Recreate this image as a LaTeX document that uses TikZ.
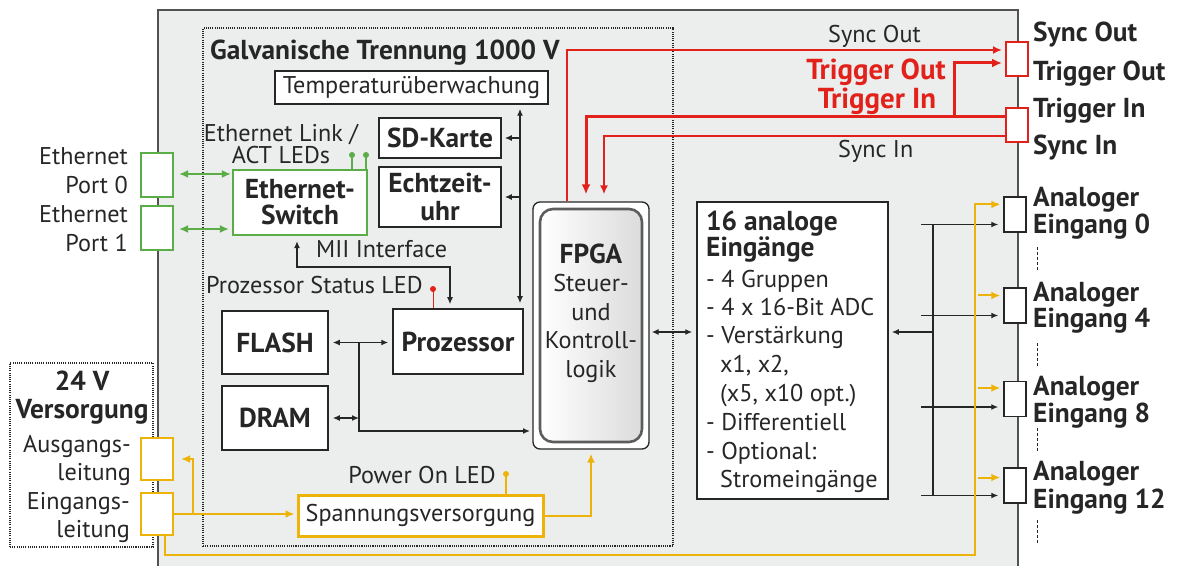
\documentclass[tikz,border=0pt]{standalone}
\usepackage{fontspec}
\setmainfont{PT Sans}
\usetikzlibrary{arrows.meta,calc}
\definecolor{dk}{HTML}{262626}
\definecolor{bg}{HTML}{ECEDED}
\definecolor{grn}{HTML}{5BAE47}
\definecolor{rd}{HTML}{E3211B}
\definecolor{yl}{HTML}{EEB309}
\newcommand\fR{\fontsize{24.3}{28.5}\selectfont}
\newcommand\fB{\fontsize{27.5}{28}\selectfont\bfseries}
\newcommand\fRB{\fontsize{29}{29}\selectfont\bfseries}
\begin{document}
\begin{tikzpicture}[x=1bp,y=-1bp, font=\fR, text=dk,
  every node/.style={inner sep=0pt},
  box/.style={draw=dk, fill=white, line width=1.5bp, align=center},
  gbox/.style={draw=grn, fill=white, line width=2.2bp, align=center},
  ybox/.style={draw=yl, fill=white, line width=2.2bp},
  rbox/.style={draw=rd, fill=white, line width=2bp},
  sz/.style 2 args={minimum width=#1bp, minimum height=#2bp},
  lbl/.style={anchor=base west},
  lblr/.style={anchor=base east},
  lblc/.style={anchor=base},
  con/.style={draw=dk, line width=1.3bp},
  arr/.style={con, -{Latex[length=7bp,width=6bp]}},
  dbl/.style={con, {Latex[length=7bp,width=6bp]}-{Latex[length=7bp,width=6bp]}},
  garr/.style={draw=grn, line width=2bp, {Latex[length=9bp,width=8bp]}-{Latex[length=9bp,width=8bp]}},
  yline/.style={draw=yl, line width=2bp},
  yarr/.style={yline, -{Latex[length=9bp,width=8bp]}},
  rthin/.style={draw=rd, line width=1.8bp, -{Latex[length=9bp,width=8bp]}},
  rthick/.style={draw=rd, line width=3bp, -{Latex[length=10bp,width=9bp]}},
  dotbox/.style={draw=dk, line width=1.1bp, dash pattern=on 1.1bp off 1.1bp},
]
\useasboundingbox (0,0) rectangle (1182,566);
% main housing
\fill[bg] (158,10) rectangle (1018,566);
\draw[dk!80, line width=1.5bp] (158,566) -- (158,10) -- (1018,10) -- (1018,566);

% dotted groups
\node[dotbox, sz={470}{518}] (galv) at (438,287) {};
\node[dotbox, fill=white, sz={143}{184}] (v24) at (81.5,455) {};

% boxes
\node[box, sz={273}{33}] (temp) at (411.5,87.5) {Temperaturüberwachung};
\node[box, sz={122}{40}, font=\fB] (sd) at (440,138) {SD-Karte};
\node[box, sz={122}{60}, font=\fB] (rtc) at (440,197) {Echtzeit-\\uhr};
\node[gbox, sz={134}{65}, font=\fB] (sw) at (300,202.5) {Ethernet-\\[-2bp]Switch};
\node[gbox, sz={32}{44}] (p0) at (157,175) {};
\node[gbox, sz={32}{44}] (p1) at (157,228) {};
\node[box, sz={130}{65}, font=\fB] (proz) at (458,341.5) {Prozessor};
\node[box, sz={106}{63}, font=\fB] (flash) at (275,342.5) {FLASH};
\node[box, sz={106}{64}, font=\fB] (dram) at (275,418) {DRAM};
\node[draw=dk, fill=white, line width=1.3bp, rounded corners=7bp, sz={116}{247}] (fpga) at (591,325.5) {};
\node[draw=dk!75, line width=2.6bp, rounded corners=13bp, sz={102}{233},
      left color=white, middle color=white, right color=black!14] (fpgain) at (591,325.5) {};
\node[align=center] (fpgatxt) at (591,313) {{\fB FPGA}\\Steuer-\\und\\Kontroll-\\logik};
\node[box, sz={191}{297}] (ana) at (792.5,350.5) {};
\node[box, sz={22}{35}] (in0) at (1015,214.5) {};
\node[box, sz={22}{35}] (in4) at (1015,305.5) {};
\node[box, sz={22}{35}] (in8) at (1015,399) {};
\node[box, sz={22}{35}] (in12) at (1015,485.5) {};
\node[rbox, sz={22}{34}] (so) at (1017,59) {};
\node[rbox, sz={22}{34}] (si) at (1017,125) {};
\node[ybox, sz={32}{42}] (ausg) at (157,459) {};
\node[ybox, sz={32}{42}] (eing) at (157,514) {};
\node[ybox, line width=3bp, sz={245}{41}] (span) at (420.5,515.5) {Spannungsversorgung};

% analog box text
\node[lbl, font=\fB] (a1) at (706,231) {16 analoge};
\node[lbl, font=\fB] (a2) at (706,257) {Eingänge};
\node[lbl] (a3) at (706,288) {- 4 Gruppen};
\node[lbl] (a4) at (706,316) {- 4 x 16-Bit ADC};
\node[lbl] (a5) at (706,344) {- Verstärkung};
\node[lbl] (a6) at (720,372) {x1, x2,};
\node[lbl] (a7) at (720,401) {(x5, x10 opt.)};
\node[lbl] (a8) at (706,430) {- Differentiell};
\node[lbl] (a9) at (706,459) {- Optional:};
\node[lbl] (a10) at (720,487) {Stromeingänge};

% labels
\node[lbl, font=\fB] (galvt) at (210,60) {Galvanische Trennung 1000 V};
\node[lblc] (ell1) at (281,142) {Ethernet Link /};
\node[lblc] (ell2) at (281,164) {ACT LEDs};
\node[lblr] (e0a) at (128,165) {Ethernet};
\node[lblr] (e0b) at (128,194) {Port 0};
\node[lblr] (e1a) at (128,223) {Ethernet};
\node[lblr] (e1b) at (128,252) {Port 1};
\node[lbl] (mii) at (316,258) {MII Interface};
\node[lbl] (psl) at (206,294) {Prozessor Status LED};
\node[lblr] (pol) at (496,483) {Power On LED};
\node[lblc, font=\fB] (v24a) at (82,390) {24 V};
\node[lblc, font=\fB] (v24b) at (82,418) {Versorgung};
\node[lblr] (aus1) at (131,452) {Ausgangs-};
\node[lblr] (aus2) at (131,480) {leitung};
\node[lblr] (ein1) at (130,509) {Eingangs-};
\node[lblr] (ein2) at (130,537) {leitung};
\node[lbl] (sot) at (828,43) {Sync Out};
\node[lblc, font=\fRB, text=rd] (tot) at (876,80) {Trigger Out};
\node[lblc, font=\fRB, text=rd] (tit) at (877,109) {Trigger In};
\node[lbl] (sit) at (838,158) {Sync In};
\node[lbl, font=\fB] (r1) at (1033,42) {Sync Out};
\node[lbl, font=\fB] (r2) at (1033,81) {Trigger Out};
\node[lbl, font=\fB] (r3) at (1033,118) {Trigger In};
\node[lbl, font=\fB] (r4) at (1033,155) {Sync In};
\node[lbl, font=\fB] (an0a) at (1033,207) {Analoger};
\node[lbl, font=\fB] (an0b) at (1033,234) {Eingang 0};
\node[lbl, font=\fB] (an4a) at (1033,302) {Analoger};
\node[lbl, font=\fB] (an4b) at (1033,328) {Eingang 4};
\node[lbl, font=\fB] (an8a) at (1033,395) {Analoger};
\node[lbl, font=\fB] (an8b) at (1033,422) {Eingang 8};
\node[lbl, font=\fB] (an12a) at (1033,480) {Analoger};
\node[lbl, font=\fB] (an12b) at (1033,508) {Eingang 12};

% dashed continuation marks
\foreach \ya/\yb in {247/270, 343/368, 428/453, 520/545}
  \draw[dk, line width=0.9bp, dash pattern=on 3bp off 2bp] (1037,\ya) -- (1037,\yb);

% coordinates
\coordinate (bx) at (520,0);
\coordinate (pled) at (433,289);
\coordinate (led1) at (352,155);
\coordinate (led2) at (366,155);
\coordinate (fj) at (359,343);
\coordinate (fin) at (533,431);
\coordinate (ab) at (933,332);
\coordinate (yb) at (975,555);
\coordinate (yj) at (193,514);
\coordinate (pon) at (506,474);
\coordinate (xso) at (567,0);
\coordinate (xti) at (586,0);
\coordinate (xsi) at (604,0);
\coordinate (xto) at (954,0);

% black connectors
\draw[dbl, shorten <=4bp, shorten >=5bp] (temp.south -| bx) -- (proz.north -| bx);
\draw[arr, shorten >=3bp] (sd.east -| bx) -- (sd.east);
\draw[arr, shorten >=3bp] (rtc.east -| bx) -- (rtc.east);
\draw[dbl, shorten <=5bp, shorten >=4bp] ([xshift=-3bp]sw.south) -- ++(0,31) -| ([xshift=-8bp]proz.north);
\draw[dbl, shorten <=4bp, shorten >=4bp] (flash.east) -- (flash.east -| proz.west);
\draw[arr, shorten >=3bp] (fj) |- (fin);
\draw[dbl, shorten <=4bp] (dram.east) -- (dram.east -| fj);
\draw[dbl, shorten <=2bp, shorten >=4bp] (fpga.east |- ab) -- (ana.west |- ab);
\draw[arr, shorten >=3bp] (ab) -- (ab -| ana.east);
\draw[con] (933,224) -- (933,496);
\draw[arr, shorten >=5bp] ($(in0.west)+(-82,10)$) -- ($(in0.west)+(0,10)$);
\draw[arr, shorten >=5bp] ($(in4.west)+(-82,10)$) -- ($(in4.west)+(0,10)$);
\draw[arr, shorten >=5bp] ($(in8.west)+(-82,8)$) -- ($(in8.west)+(0,8)$);
\draw[arr, shorten >=5bp] ($(in12.west)+(-82,10)$) -- ($(in12.west)+(0,10)$);

% status LED
\draw[rd, line width=1bp] (pled) -- (pled |- proz.north);
\fill[rd] (pled) circle (3bp);

% green
\draw[garr, shorten <=5bp, shorten >=1bp] ($(p0.east)+(0,-1)$) -- ($(p0.east -| sw.west)+(0,-1)$);
\draw[garr, shorten <=5bp, shorten >=3bp] ($(p1.east)+(0,1)$) -- ($(p1.east -| sw.west)+(0,1)$);
\draw[grn, line width=1.2bp] (led1) -- (led1 |- sw.north);
\draw[grn, line width=1.2bp] (led2) -- (led2 |- sw.north);
\fill[grn] (led1) circle (3bp);
\fill[grn] (led2) circle (3bp);

% yellow
\draw[yline] ([xshift=8bp]eing.south) |- (yb) |- ($(in0.west)+(-5,-10)$);
\draw[yarr] ($(in0.west)+(-25,-10)$) -- ($(in0.west)+(-3,-10)$);
\draw[yarr] ($(in4.west)+(-25,-10)$) -- ($(in4.west)+(-3,-10)$);
\draw[yarr] ($(in8.west)+(-25,-11)$) -- ($(in8.west)+(-3,-11)$);
\draw[yarr] ($(in12.west)+(-25,-8)$) -- ($(in12.west)+(-3,-8)$);
\draw[yarr, shorten >=2bp] (eing.east) -- (eing.east -| span.west);
\draw[yarr, shorten >=7bp] (yj) |- (ausg.east);
\draw[yarr, shorten >=4bp] (span.east) -| (fpga.south);
\draw[yl, line width=1.2bp] (pon) -- (pon |- span.north);
\fill[yl] (pon) circle (3bp);

% red
\draw[rthin, shorten >=3bp] (fpga.north -| xso) |- ($(so.west)+(0,-9)$);
\draw[rthick, shorten >=7bp] ($(si.west)+(0,-8)$) -| (fpga.north -| xti);
\draw[rthin, shorten >=7bp] ($(si.west)+(0,11)$) -| (fpga.north -| xsi);
\draw[rthick, shorten >=3bp] ($(si.west -| xto)+(0,-8)$) |- ($(so.west)+(0,4)$);
\end{tikzpicture}
\end{document}
